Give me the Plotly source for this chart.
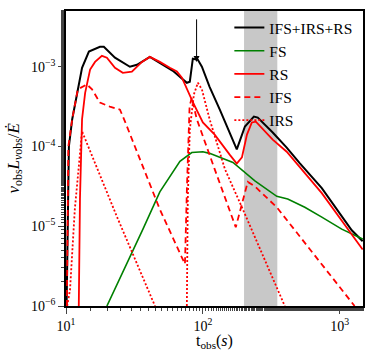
import plotly.graph_objects as go
import numpy as np

# ---- data ----
t_total = [10.1, 10.5, 11.1, 13.1, 14.7, 17.7, 18.9, 22.8, 29.3, 33, 41, 48.5, 60.4, 76.4,
           80.3, 84.5, 92, 98.4, 112, 133, 150, 177, 203, 236, 252, 324, 410, 510, 740, 1225, 1472]
L_total = [1e-6, 1.0e-4, 2.2e-4, 9.7e-4, 1.55e-3, 1.78e-3, 1.78e-3, 1.3e-3, 1.0e-3, 1.06e-3, 1.33e-3,
           1.12e-3, 8.9e-4, 6.3e-4, 6.5e-4, 1.26e-3, 1.22e-3, 1.0e-3, 5.6e-4, 2.9e-4, 1.78e-4,
           9.2e-5, 1.78e-4, 2.37e-4, 2.3e-4, 1.5e-4, 9.7e-5, 6.2e-5, 3.0e-5, 8.9e-6, 6.5e-6]

t_fs = [19.9, 24.8, 30.3, 36.5, 48.5, 68, 83, 100, 112, 166, 240, 347, 417, 556, 740, 1035, 1472]
L_fs = [1e-6, 2.2e-6, 4.7e-6, 9.2e-6, 2.7e-5, 6.5e-5, 8.4e-5, 8.6e-5, 8.2e-5, 6.3e-5, 3.7e-5,
        2.37e-5, 2.2e-5, 1.73e-5, 1.3e-5, 9.2e-6, 6.9e-6]

t_rs = [12.4, 12.65, 13.1, 13.8, 15.0, 16.3, 18.3, 19.9, 22.8, 26, 30.3, 35.9, 41, 48.5, 57.4,
        64.6, 70.3, 84.5, 100, 122, 157, 177, 193, 210, 228, 244, 324, 410, 740, 1225, 1472]
L_rs = [1e-6, 2.2e-5, 2.2e-4, 4.7e-4, 9.2e-4, 1.15e-3, 1.37e-3, 1.3e-3, 9.7e-4, 8.4e-4, 8.7e-4,
        1.15e-3, 1.33e-3, 1.15e-3, 9.7e-4, 8.7e-4, 7.3e-4, 3.6e-4, 2.0e-4, 1.41e-4, 7.9e-5,
        6.1e-5, 7.3e-5, 1.41e-4, 2.0e-4, 2.05e-4, 1.22e-4, 8.6e-5, 2.6e-5, 7.7e-6, 5.1e-6]

t_ifs = [10.15, 10.4, 11.1, 12.2, 14.2, 15.5, 17.7, 20.9, 24.8, 27, 48.5, 74, 76.5, 80, 83,
         90.3, 122, 174, 213, 240, 347, 1285]
L_ifs = [1e-6, 1.0e-4, 2.2e-4, 5.2e-4, 6.0e-4, 5.2e-4, 3.55e-4, 3.16e-4, 2.9e-4, 2.05e-4,
         1.63e-5, 3.35e-6, 3.0e-5, 3.2e-4, 4.1e-4, 2.2e-4, 5.2e-5, 9.7e-6, 3.6e-5, 3.16e-5,
         1.73e-5, 1.0e-6]

t_irs1 = [10.2, 10.7, 11.6, 12.65, 13.1, 23.5, 44.7]
L_irs1 = [1e-6, 1.6e-6, 1.63e-5, 9.2e-5, 1.55e-4, 1.33e-5, 1e-6]
t_irs2 = [76.4, 77.6, 80.3, 86, 92, 98.4, 112, 145, 196, 240, 397]
L_irs2 = [1e-6, 2.2e-5, 1.63e-4, 4.5e-4, 6.3e-4, 5.2e-4, 2.2e-4, 5.2e-5, 1.63e-5, 7.3e-6, 1e-6]

band = [200, 350]
arrow_t = 90
arrow_L = [4.1e-3, 1.15e-3]

FONT = "Liberation Serif"
RED = "#ff0000"

fig = go.Figure()

fig.add_shape(type="rect", xref="x", yref="paper", x0=band[0], x1=band[1], y0=0, y1=1,
              fillcolor="#c8c8c8", line_width=0, layer="below")

fig.add_trace(go.Scatter(x=t_total, y=L_total, mode="lines", name="IFS+IRS+RS",
                         line=dict(color="black", width=2)))
fig.add_trace(go.Scatter(x=t_fs, y=L_fs, mode="lines", name="FS",
                         line=dict(color="green", width=1.6)))
fig.add_trace(go.Scatter(x=t_rs, y=L_rs, mode="lines", name="RS",
                         line=dict(color=RED, width=1.8)))
fig.add_trace(go.Scatter(x=t_ifs, y=L_ifs, mode="lines", name="IFS",
                         line=dict(color=RED, width=1.8, dash="6px,4px")))
fig.add_trace(go.Scatter(x=t_irs1, y=L_irs1, mode="lines", name="IRS",
                         line=dict(color=RED, width=1.8, dash="2px,2px")))
fig.add_trace(go.Scatter(x=t_irs2, y=L_irs2, mode="lines", name="IRS", showlegend=False,
                         line=dict(color=RED, width=1.8, dash="2px,2px")))

# arrow marking the flare
fig.add_annotation(x=np.log10(arrow_t), y=np.log10(arrow_L[1]), ax=np.log10(arrow_t),
                   ay=np.log10(arrow_L[0]), xref="x", yref="y", axref="x", ayref="y",
                   text="", showarrow=True, arrowhead=2, arrowsize=1.2, arrowwidth=1,
                   arrowcolor="black")

# axis titles as annotations so the plot frame stays put
fig.add_annotation(text="t<sub>obs</sub>(<i>s</i>)", xref="paper", yref="paper",
                   x=0.5, y=-0.12, xanchor="center", yanchor="middle", showarrow=False,
                   font=dict(size=16))
fig.add_annotation(text="<i>ν</i><sub>obs</sub><i>L</i><sub><i>ν</i>obs</sub>/<i>Ė</i>",
                   xref="paper", yref="paper", x=-0.175, y=0.5, xanchor="center",
                   yanchor="middle", textangle=-90, showarrow=False, font=dict(size=17))

ytick = [1e-6, 1e-5, 1e-4, 1e-3]
ytext = ["10<sup>−6</sup>", "10<sup>−5</sup>", "10<sup>−4</sup>", "10<sup>−3</sup>"]
xtick = [10, 100, 1000]
xtext = ["10<sup>1</sup>", "10<sup>2</sup>", "10<sup>3</sup>"]

fig.update_layout(
    width=374, height=355,
    margin=dict(l=66, r=11, t=11, b=49),
    plot_bgcolor="white", paper_bgcolor="white",
    font=dict(family=FONT, size=14, color="black"),
    legend=dict(x=0.55, y=1.0, xanchor="left", yanchor="top", bgcolor="rgba(0,0,0,0)",
                font=dict(size=15.5), tracegroupgap=0),
    xaxis=dict(type="log", range=[1, np.log10(1480)], tickvals=xtick, ticktext=xtext,
               ticks="outside", ticklen=6, tickwidth=1, showgrid=False, zeroline=False,
               showline=True, linecolor="black", linewidth=1.5, mirror=True, automargin=False,
               minor=dict(ticks="outside", ticklen=3, tickwidth=1, showgrid=False)),
    yaxis=dict(type="log", range=[-6, np.log10(5.0e-3)], tickvals=ytick, ticktext=ytext,
               ticks="outside", ticklen=6, tickwidth=1, showgrid=False, zeroline=False,
               showline=True, linecolor="black", linewidth=1.5, mirror=True, automargin=False,
               minor=dict(ticks="outside", ticklen=3, tickwidth=1, showgrid=False)),
    showlegend=True,
)

fig.write_html("out.html", config={"displayModeBar": False},
               post_script="document.body.style.margin='0';")
